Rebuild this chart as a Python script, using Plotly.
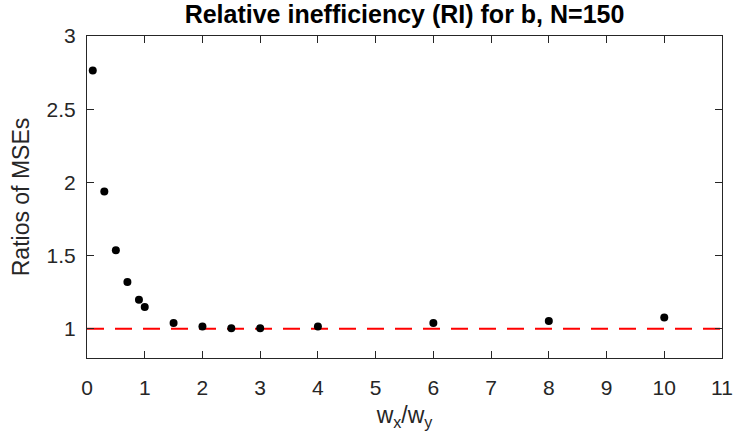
import plotly.graph_objects as go

# Data
ratio_w = [0.1, 0.3, 0.5, 0.7, 0.9, 1.0, 1.5, 2.0, 2.5, 3.0, 4.0, 6.0, 8.0, 10.0]
ri_values = [2.764, 1.937, 1.537, 1.319, 1.198, 1.148, 1.039, 1.016, 1.003, 1.003, 1.016, 1.039, 1.053, 1.076]
ref_x = [0, 11]
ref_y = [1, 1]
x_ticks = list(range(0, 12))
y_ticks = [1, 1.5, 2, 2.5, 3]
y_tick_labels = ["1", "1.5", "2", "2.5", "3"]

FONT = "Liberation Sans, Arial, Helvetica, sans-serif"
AX = "#262626"

fig = go.Figure()
fig.add_trace(go.Scatter(
    x=ref_x, y=ref_y, mode="lines",
    line=dict(color="#FF0000", width=2, dash="17px,11px"),
    showlegend=False, hoverinfo="skip"))
fig.add_trace(go.Scatter(
    x=ratio_w, y=ri_values, mode="markers",
    marker=dict(color="black", size=8, symbol="circle"),
    showlegend=False))

axis_common = dict(
    showline=True, linecolor=AX, linewidth=1, mirror="ticks",
    ticks="inside", ticklen=7, tickwidth=1, tickcolor=AX,
    showgrid=False, zeroline=False,
    tickfont=dict(family=FONT, size=21, color=AX),
)

fig.update_layout(
    width=744, height=448,
    margin=dict(l=86.5, r=11.3, t=35.5, b=90),
    paper_bgcolor="white", plot_bgcolor="white",
    title=dict(text="<b>Relative inefficiency (RI) for b, N=150</b>",
               x=0.5, xref="paper", xanchor="center",
               y=0.968, yref="container", yanchor="middle",
               font=dict(family=FONT, size=25, color="black")),
    xaxis=dict(range=[0, 11], tickvals=x_ticks, ticklabelstandoff=11,
               title=dict(text="w<sub>x</sub>/w<sub>y</sub>",
                          font=dict(family=FONT, size=23, color=AX), standoff=8),
               **axis_common),
    yaxis=dict(range=[0.8, 3], tickvals=y_ticks, ticktext=y_tick_labels,
               ticklabelstandoff=6,
               title=dict(text="Ratios of MSEs",
                          font=dict(family=FONT, size=23, color=AX), standoff=10),
               **axis_common),
)

fig.write_html("out.html")
